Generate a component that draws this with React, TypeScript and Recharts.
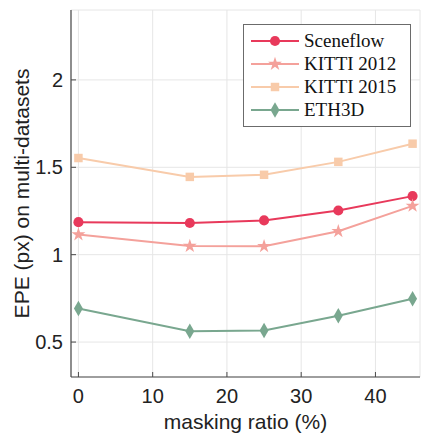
import { LineChart, Line, XAxis, YAxis, CartesianGrid, Legend, Symbols } from 'recharts';

// 掩码比例 (%)
const ratios = [0, 15, 25, 35, 45];
// 各数据集 EPE (px)
const sceneflow = [1.186, 1.181, 1.196, 1.253, 1.335];
const kitti2012 = [1.115, 1.049, 1.048, 1.134, 1.279];
const kitti2015 = [1.553, 1.445, 1.457, 1.531, 1.635];
const eth3d = [0.692, 0.562, 0.566, 0.65, 0.748];

const xTicks = [0, 10, 20, 30, 40];
const yTicks = [0.5, 1, 1.5, 2];

const data = ratios.map((r, i) => ({
  ratio: r,
  sceneflow: sceneflow[i],
  kitti2012: kitti2012[i],
  kitti2015: kitti2015[i],
  eth3d: eth3d[i],
}));

const SERIES = [
  { key: 'sceneflow', name: 'Sceneflow', color: '#e8395b', symbol: 'circle', size: 80 },
  { key: 'kitti2012', name: 'KITTI 2012', color: '#f4a19b', symbol: 'star', size: 60 },
  { key: 'kitti2015', name: 'KITTI 2015', color: '#f8cbaa', symbol: 'square', size: 72 },
  { key: 'eth3d', name: 'ETH3D', color: '#79a78f', symbol: 'diamond', size: 70 },
] as const;

const SANS = '"Liberation Sans", Arial, sans-serif';
const SERIF = '"Liberation Serif", "Times New Roman", serif';
const FRAME = '#4a4a4a';
const FRAME_LIGHT = '#8a8a8a';

// 底部刻度：向内的刻度线 + 标签
function BottomTick({ x, y, payload }: any) {
  return (
    <g>
      <line x1={x} x2={x} y1={y} y2={y - 5} stroke={FRAME} strokeWidth={1} />
      <text x={x} y={y + 26} textAnchor="middle" fontSize={20} fontFamily={SANS} fill="#222">
        {payload.value}
      </text>
    </g>
  );
}

function LeftTick({ x, y, payload }: any) {
  return (
    <g>
      <line x1={x + 8} x2={x + 13} y1={y} y2={y} stroke={FRAME} strokeWidth={1} />
      <text x={x} y={y + 7} textAnchor="end" fontSize={20} fontFamily={SANS} fill="#222">
        {payload.value}
      </text>
    </g>
  );
}

function TopTick({ x, y }: any) {
  return <line x1={x} x2={x} y1={y} y2={y + 5} stroke={FRAME_LIGHT} strokeWidth={1} />;
}

function RightTick({ x, y }: any) {
  return <line x1={x} x2={x - 5} y1={y} y2={y} stroke={FRAME_LIGHT} strokeWidth={1} />;
}

function makeDot(symbol: string, size: number, color: string) {
  return (props: any) => {
    const { cx, cy, index } = props;
    if (cx == null || cy == null) return <g key={index} />;
    return <Symbols key={index} cx={cx} cy={cy} type={symbol as any} size={size} fill={color} />;
  };
}

function LegendBox() {
  return (
    <div
      style={{
        border: '1px solid #6b6b6b',
        background: '#fff',
        width: 168,
        height: 103,
        boxSizing: 'border-box',
        paddingTop: 5,
      }}
    >
      {SERIES.map((s) => (
        <div key={s.key} style={{ display: 'flex', alignItems: 'center', height: 22.8 }}>
          <svg width={60} height={22} style={{ flex: 'none' }}>
            <line x1={7} x2={55} y1={11} y2={11} stroke={s.color} strokeWidth={2} />
            <Symbols cx={31} cy={11} type={s.symbol as any} size={s.size} fill={s.color} />
          </svg>
          <span style={{ fontFamily: SERIF, fontSize: 19, color: '#111', lineHeight: '22px' }}>
            {s.name}
          </span>
        </div>
      ))}
    </div>
  );
}

function YLabel({ viewBox }: any) {
  const cx = viewBox.x + 29;
  const cy = viewBox.y + viewBox.height / 2;
  return (
    <text
      x={cx}
      y={cy}
      transform={`rotate(-90, ${cx}, ${cy})`}
      textAnchor="middle"
      fontSize={21}
      fontFamily={SANS}
      fill="#222"
    >
      EPE (px) on multi-datasets
    </text>
  );
}

export default function App() {
  return (
    <div style={{ position: 'absolute', left: 0, top: 0, width: 423, height: 436, background: '#fff' }}>
      <LineChart width={423} height={436} data={data} margin={{ top: 10, right: 3, bottom: 0, left: 0 }}>
        <CartesianGrid stroke="#e6e6e6" strokeWidth={1} />
        <XAxis
          dataKey="ratio"
          type="number"
          domain={[-1, 46]}
          ticks={xTicks}
          allowDataOverflow
          height={59}
          tickSize={0}
          tickMargin={0}
          axisLine={{ stroke: FRAME, strokeWidth: 1.2 }}
          tick={<BottomTick />}
          label={{ value: 'masking ratio (%)', position: 'insideBottom', offset: 7, fontSize: 21, fontFamily: SANS, fill: '#222' }}
        />
        <XAxis
          xAxisId="top"
          orientation="top"
          type="number"
          domain={[-1, 46]}
          ticks={xTicks}
          allowDataOverflow
          height={0}
          tickSize={0}
          tickMargin={0}
          axisLine={{ stroke: FRAME_LIGHT, strokeWidth: 1 }}
          tick={<TopTick />}
        />
        <YAxis
          type="number"
          domain={[0.3, 2.4]}
          ticks={yTicks}
          allowDataOverflow
          width={71}
          tickSize={0}
          tickMargin={8}
          axisLine={{ stroke: FRAME, strokeWidth: 1.2 }}
          tick={<LeftTick />}
          label={{ content: <YLabel /> }}
        />
        <YAxis
          yAxisId="right"
          orientation="right"
          type="number"
          domain={[0.3, 2.4]}
          ticks={yTicks}
          allowDataOverflow
          width={0}
          tickSize={0}
          tickMargin={0}
          axisLine={{ stroke: FRAME_LIGHT, strokeWidth: 1 }}
          tick={<RightTick />}
        />
        {SERIES.map((s) => (
          <Line
            key={s.key}
            dataKey={s.key}
            name={s.name}
            stroke={s.color}
            strokeWidth={2}
            dot={makeDot(s.symbol, s.size, s.color)}
            activeDot={false}
            isAnimationActive={false}
          />
        ))}
        <Legend
          layout="vertical"
          align="center"
          verticalAlign="middle"
          content={<LegendBox />}
          wrapperStyle={{ top: 24, left: 243, width: 168, height: 103 }}
        />
      </LineChart>
    </div>
  );
}
